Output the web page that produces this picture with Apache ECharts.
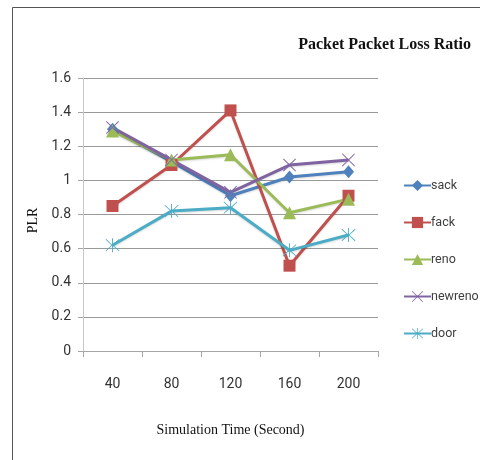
<!DOCTYPE html>
<html>
<head>
<meta charset="utf-8">
<script src="https://cdn.jsdelivr.net/npm/echarts@6/dist/echarts.min.js"></script>
<style>
  html, body { margin: 0; padding: 0; background: #fff; }
  #chart { width: 480px; height: 460px; }
</style>
</head>
<body>
<div id="chart"></div>
<script>
// Simulation times (seconds) on the x axis
const times = ['40', '80', '120', '160', '200'];

// Packet loss ratio per TCP variant
const sack    = [1.30, 1.11, 0.91, 1.02, 1.05];
const fack    = [0.85, 1.09, 1.41, 0.50, 0.91];
const reno    = [1.29, 1.12, 1.15, 0.81, 0.89];
const newreno = [1.31, 1.12, 0.93, 1.09, 1.12];
const door    = [0.62, 0.82, 0.84, 0.59, 0.68];

const seriesNames = ['sack', 'fack', 'reno', 'newreno', 'door'];
const seriesColors = ['#4F81BD', '#C0504D', '#9BBB59', '#8064A2', '#4BACC6'];

// thin-stroke marker outlines built as filled paths
const crossPath = 'path://M0,1 L1,0 L10,9 L19,0 L20,1 L11,10 L20,19 L19,20 L10,11 L1,20 L0,19 L9,10 Z';
const starPath = 'path://M9.4,0 L10.6,0 L10.6,9.2 L18.4,1.2 L19.2,2 L11.4,10 L19.2,18 L18.4,18.8 L10.6,10.8 L10.6,20 L9.4,20 L9.4,10.8 L1.6,18.8 L0.8,18 L8.6,10 L0.8,2 L1.6,1.2 L9.4,9.2 Z';

const markers = [
  { symbol: 'diamond', size: [11, 13] },
  { symbol: 'rect', size: 12 },
  { symbol: 'triangle', size: 13 },
  { symbol: crossPath, size: 13 },
  { symbol: starPath, size: 14 }
];

const dataSets = [sack, fack, reno, newreno, door];

const chart = echarts.init(document.getElementById('chart'), null, { renderer: 'canvas' });

const labelFont = 'Roboto, "Liberation Sans", sans-serif';
const serifFont = '"Liberation Serif", "DejaVu Serif", serif';

chart.setOption({
  animation: false,
  backgroundColor: '#ffffff',
  title: {
    text: 'Packet Packet Loss Ratio',
    right: 4,
    top: 32,
    textStyle: {
      fontFamily: serifFont,
      fontWeight: 'bold',
      fontSize: 16,
      color: '#111'
    }
  },
  graphic: [
    {
      type: 'polyline',
      shape: { points: [[12.5, 480], [12.5, 7.5], [490, 7.5]] },
      style: { stroke: '#555', lineWidth: 1, fill: null },
      silent: true
    }
  ],
  legend: {
    orient: 'vertical',
    left: 398,
    top: 174,
    itemGap: 24,
    itemWidth: 27,
    itemHeight: 14,
    textStyle: {
      fontFamily: labelFont,
      fontSize: 12.5,
      color: '#404040',
      padding: [0, 0, 0, -5]
    },
    data: seriesNames
  },
  grid: {
    left: 83,
    right: 102,
    top: 78,
    bottom: 109,
    containLabel: false
  },
  xAxis: {
    type: 'category',
    data: times,
    boundaryGap: true,
    name: 'Simulation Time (Second)',
    nameLocation: 'middle',
    nameGap: 72,
    nameTextStyle: {
      fontFamily: serifFont,
      fontSize: 14,
      color: '#111'
    },
    axisLine: { lineStyle: { color: '#a6a6a6', width: 1 } },
    axisTick: { show: true, alignWithLabel: false, length: 6, lineStyle: { color: '#a6a6a6' } },
    axisLabel: {
      margin: 26,
      fontFamily: labelFont,
      fontSize: 14,
      color: '#333'
    },
    splitLine: { show: false }
  },
  yAxis: {
    type: 'value',
    min: 0,
    max: 1.6,
    interval: 0.2,
    name: 'PLR',
    nameLocation: 'middle',
    nameGap: 42,
    nameRotate: 90,
    nameTextStyle: {
      fontFamily: serifFont,
      fontSize: 14,
      color: '#111',
      padding: [0, 0, 0, -12]
    },
    axisLine: { show: true, lineStyle: { color: '#c8c8c8', width: 1 } },
    axisTick: { show: true, length: 5, lineStyle: { color: '#a6a6a6' } },
    axisLabel: {
      margin: 12,
      fontFamily: labelFont,
      fontSize: 14,
      color: '#333'
    },
    splitLine: { show: true, lineStyle: { color: '#9a9a9a', width: 1 } }
  },
  series: seriesNames.map((name, i) => ({
    name: name,
    type: 'line',
    data: dataSets[i],
    symbol: markers[i].symbol,
    symbolSize: markers[i].size,
    showAllSymbol: true,
    color: seriesColors[i],
    lineStyle: {
      width: 3,
      color: seriesColors[i],
      shadowColor: 'rgba(0,0,0,0.15)',
      shadowBlur: 2,
      shadowOffsetY: 1
    },
    itemStyle: { color: seriesColors[i], borderWidth: 0 },
    emphasis: { disabled: true }
  }))
});
</script>
</body>
</html>
